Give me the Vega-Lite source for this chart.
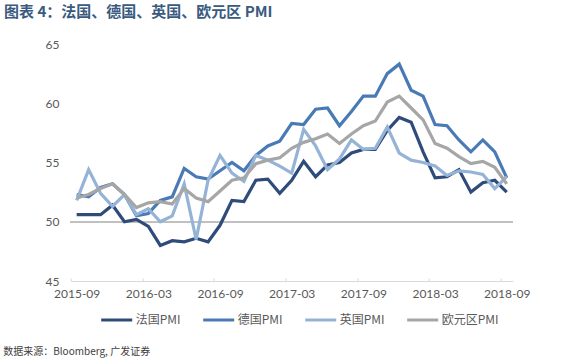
{
  "$schema": "https://vega.github.io/schema/vega-lite/v6.json",
  "width": 442,
  "height": 237,
  "autosize": "none",
  "padding": {"left": 70.7, "top": 44, "right": 64.3, "bottom": 78},
  "background": "white",
  "title": {
    "text": "图表 4：法国、德国、英国、欧元区 PMI",
    "anchor": "start",
    "frame": "group",
    "dx": -66.7,
    "offset": 18,
    "fontSize": 15,
    "font": "Noto Sans CJK SC",
    "fontWeight": "bold",
    "color": "#3a5a80"
  },
  "config": {
    "view": {"stroke": null}
  },
  "data": {
    "values": [
      {"month": "2015-09", "法国PMI": 50.6, "德国PMI": 52.3, "英国PMI": 51.8, "欧元区PMI": 52.0},
      {"month": "2015-10", "法国PMI": 50.6, "德国PMI": 52.1, "英国PMI": 54.4, "欧元区PMI": 52.3},
      {"month": "2015-11", "法国PMI": 50.6, "德国PMI": 52.9, "英国PMI": 52.4, "欧元区PMI": 52.8},
      {"month": "2015-12", "法国PMI": 51.4, "德国PMI": 53.2, "英国PMI": 51.3, "欧元区PMI": 53.2},
      {"month": "2016-01", "法国PMI": 50.0, "德国PMI": 52.3, "英国PMI": 52.3, "欧元区PMI": 52.3},
      {"month": "2016-02", "法国PMI": 50.2, "德国PMI": 50.5, "英国PMI": 50.6, "欧元区PMI": 51.2},
      {"month": "2016-03", "法国PMI": 49.6, "德国PMI": 50.7, "英国PMI": 51.1, "欧元区PMI": 51.6},
      {"month": "2016-04", "法国PMI": 48.0, "德国PMI": 51.8, "英国PMI": 50.0, "欧元区PMI": 51.7},
      {"month": "2016-05", "法国PMI": 48.4, "德国PMI": 52.1, "英国PMI": 50.5, "欧元区PMI": 51.5},
      {"month": "2016-06", "法国PMI": 48.3, "德国PMI": 54.5, "英国PMI": 53.2, "欧元区PMI": 52.8},
      {"month": "2016-07", "法国PMI": 48.6, "德国PMI": 53.8, "英国PMI": 48.5, "欧元区PMI": 52.0},
      {"month": "2016-08", "法国PMI": 48.3, "德国PMI": 53.6, "英国PMI": 53.5, "欧元区PMI": 51.7},
      {"month": "2016-09", "法国PMI": 49.7, "德国PMI": 54.3, "英国PMI": 55.6, "欧元区PMI": 52.6},
      {"month": "2016-10", "法国PMI": 51.8, "德国PMI": 55.0, "英国PMI": 54.1, "欧元区PMI": 53.5},
      {"month": "2016-11", "法国PMI": 51.7, "德国PMI": 54.3, "英国PMI": 53.4, "欧元区PMI": 53.7},
      {"month": "2016-12", "法国PMI": 53.5, "德国PMI": 55.6, "英国PMI": 55.6, "欧元区PMI": 54.9},
      {"month": "2017-01", "法国PMI": 53.6, "德国PMI": 56.4, "英国PMI": 55.2, "欧元区PMI": 55.2},
      {"month": "2017-02", "法国PMI": 52.4, "德国PMI": 56.8, "英国PMI": 54.7, "欧元区PMI": 55.4},
      {"month": "2017-03", "法国PMI": 53.5, "德国PMI": 58.3, "英国PMI": 54.1, "欧元区PMI": 56.2},
      {"month": "2017-04", "法国PMI": 55.1, "德国PMI": 58.2, "英国PMI": 57.8, "欧元区PMI": 56.7},
      {"month": "2017-05", "法国PMI": 53.8, "德国PMI": 59.5, "英国PMI": 56.4, "欧元区PMI": 57.0},
      {"month": "2017-06", "法国PMI": 54.8, "德国PMI": 59.6, "英国PMI": 54.4, "欧元区PMI": 57.4},
      {"month": "2017-07", "法国PMI": 55.0, "德国PMI": 58.1, "英国PMI": 55.3, "欧元区PMI": 56.6},
      {"month": "2017-08", "法国PMI": 55.8, "德国PMI": 59.3, "英国PMI": 56.9, "欧元区PMI": 57.4},
      {"month": "2017-09", "法国PMI": 56.1, "德国PMI": 60.6, "英国PMI": 56.1, "欧元区PMI": 58.1},
      {"month": "2017-10", "法国PMI": 56.1, "德国PMI": 60.6, "英国PMI": 56.2, "欧元区PMI": 58.5},
      {"month": "2017-11", "法国PMI": 57.7, "德国PMI": 62.5, "英国PMI": 58.0, "欧元区PMI": 60.1},
      {"month": "2017-12", "法国PMI": 58.8, "德国PMI": 63.3, "英国PMI": 55.8, "欧元区PMI": 60.6},
      {"month": "2018-01", "法国PMI": 58.4, "德国PMI": 61.1, "英国PMI": 55.2, "欧元区PMI": 59.6},
      {"month": "2018-02", "法国PMI": 55.9, "德国PMI": 60.6, "英国PMI": 55.0, "欧元区PMI": 58.6},
      {"month": "2018-03", "法国PMI": 53.7, "德国PMI": 58.2, "英国PMI": 54.7, "欧元区PMI": 56.6},
      {"month": "2018-04", "法国PMI": 53.8, "德国PMI": 58.1, "英国PMI": 53.9, "欧元区PMI": 56.2},
      {"month": "2018-05", "法国PMI": 54.4, "德国PMI": 56.9, "英国PMI": 54.3, "欧元区PMI": 55.5},
      {"month": "2018-06", "法国PMI": 52.5, "德国PMI": 55.9, "英国PMI": 54.2, "欧元区PMI": 54.9},
      {"month": "2018-07", "法国PMI": 53.3, "德国PMI": 56.9, "英国PMI": 54.0, "欧元区PMI": 55.1},
      {"month": "2018-08", "法国PMI": 53.5, "德国PMI": 55.9, "英国PMI": 52.8, "欧元区PMI": 54.6},
      {"month": "2018-09", "法国PMI": 52.5, "德国PMI": 53.7, "英国PMI": 53.8, "欧元区PMI": 53.2}
    ]
  },
  "layer": [
    {
      "mark": {"type": "rule", "color": "#c0c0c0", "strokeWidth": 1},
      "encoding": {"y": {"datum": 50, "type": "quantitative"}}
    },
    {
      "transform": [
        {"fold": ["法国PMI", "德国PMI", "英国PMI", "欧元区PMI"], "as": ["series", "value"]}
      ],
      "mark": {"type": "line", "strokeWidth": 3.2, "strokeJoin": "miter", "strokeCap": "butt"},
      "encoding": {
        "x": {
          "field": "month",
          "type": "ordinal",
          "sort": null,
          "scale": {"type": "point", "padding": 0.5},
          "axis": {
            "values": ["2015-09", "2016-03", "2016-09", "2017-03", "2017-09", "2018-03", "2018-09"],
            "labelAngle": 0,
            "labelFont": "Lato",
            "labelFontSize": 12,
            "labelColor": "#595959",
            "tickOffset": -5.97,
            "labelOffset": 5.97,
            "tickSize": -3,
            "tickColor": "#d9d9d9",
            "domainColor": "#d9d9d9",
            "labelPadding": 10,
            "grid": false,
            "title": "数据来源：Bloomberg, 广发证券",
            "titleFont": "Noto Sans CJK SC",
            "titleFontSize": 10,
            "titleFontWeight": "normal",
            "titleColor": "#404040",
            "titleAnchor": "start",
            "titleAlign": "left",
            "titleBaseline": "middle",
            "titleX": -68,
            "titleY": 70
          }
        },
        "y": {
          "field": "value",
          "type": "quantitative",
          "scale": {"domain": [45, 65], "nice": false, "zero": false},
          "axis": {
            "values": [45, 50, 55, 60, 65],
            "title": null,
            "grid": false,
            "domain": false,
            "ticks": false,
            "labelPadding": 11.7,
            "labelFont": "Lato",
            "labelFontSize": 12,
            "labelColor": "#595959"
          }
        },
        "color": {
          "field": "series",
          "type": "nominal",
          "sort": ["法国PMI", "德国PMI", "英国PMI", "欧元区PMI"],
          "scale": {
            "domain": ["法国PMI", "德国PMI", "英国PMI", "欧元区PMI"],
            "range": ["#2e4b7a", "#4a7ab5", "#95b3d7", "#a6a6a6"]
          },
          "legend": {
            "orient": "none",
            "legendX": 29,
            "legendY": 259,
            "direction": "horizontal",
            "title": null,
            "symbolType": "stroke",
            "symbolSize": 960,
            "symbolStrokeWidth": 3,
            "labelFont": "Noto Sans CJK SC",
            "labelFontSize": 12,
            "labelColor": "#595959",
            "labelOffset": 2,
            "columnPadding": 16
          }
        }
      }
    }
  ]
}
